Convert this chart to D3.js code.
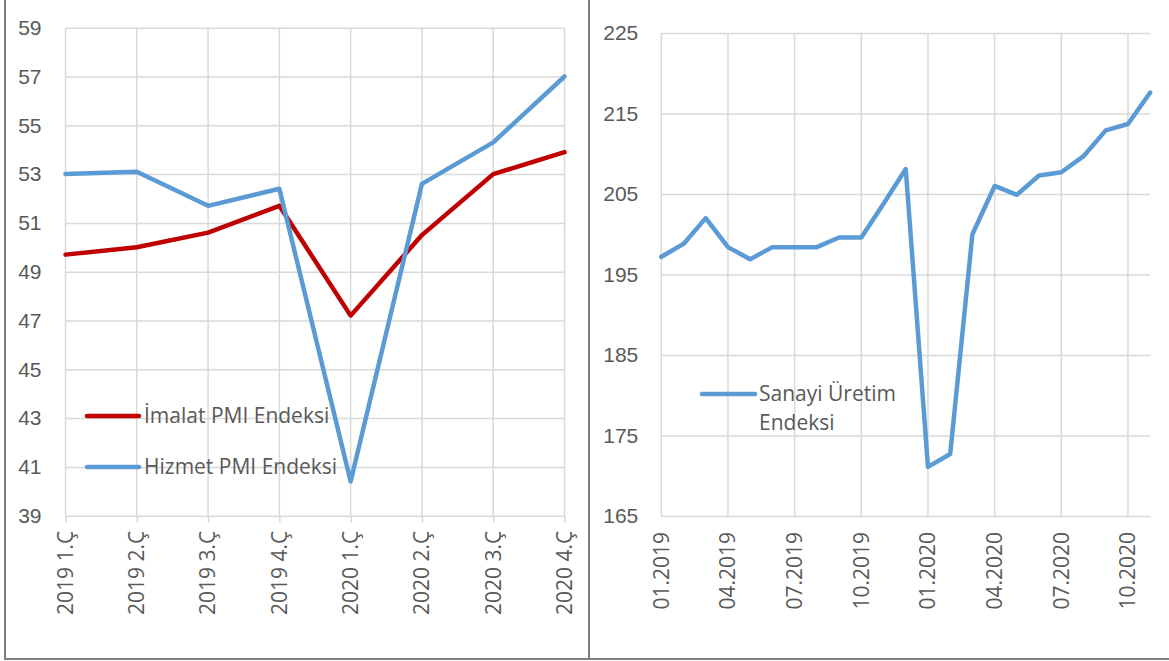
<!DOCTYPE html>
<html>
<head>
    <meta charset="utf-8">
    <title>PMI ve Sanayi Üretim Endeksi</title>
    <script src="https://d3js.org/d3.v7.min.js"></script>
    <style>
        body {
            margin: 0;
            background: #ffffff;
            font-family: 'Open Sans', 'Noto Sans', sans-serif;
        }
        svg text {
            fill: #595959;
        }
        .grid line {
            stroke: #d9d9d9;
            stroke-width: 1.5;
        }
    </style>
</head>
<body>
    <div id="chart"></div>

    <script>
        // Left panel: quarterly PMI
        const quarters = ['2019 1.Ç', '2019 2.Ç', '2019 3.Ç', '2019 4.Ç', '2020 1.Ç', '2020 2.Ç', '2020 3.Ç', '2020 4.Ç'];
        const imalatPMI = [49.7, 50.0, 50.6, 51.7, 47.2, 50.5, 53.0, 53.9];
        const hizmetPMI = [53.0, 53.1, 51.7, 52.4, 40.4, 52.6, 54.3, 57.0];
        const pmiTicks = [39, 41, 43, 45, 47, 49, 51, 53, 55, 57, 59];

        // Right panel: monthly industrial production
        const months = ['01.2019', '02.2019', '03.2019', '04.2019', '05.2019', '06.2019', '07.2019', '08.2019',
            '09.2019', '10.2019', '11.2019', '12.2019', '01.2020', '02.2020', '03.2020', '04.2020',
            '05.2020', '06.2020', '07.2020', '08.2020', '09.2020', '10.2020', '11.2020'];
        const sanayiUretim = [197.2, 198.8, 202.0, 198.4, 196.9, 198.4, 198.4, 198.4, 199.6, 199.6, 203.8, 208.1,
            171.1, 172.7, 200.0, 206.0, 204.9, 207.3, 207.7, 209.7, 212.9, 213.7, 217.6];
        const monthTickLabels = ['01.2019', '04.2019', '07.2019', '10.2019', '01.2020', '04.2020', '07.2020', '10.2020'];
        const uretimTicks = [165, 175, 185, 195, 205, 215, 225];

        const width = 1169;
        const height = 661;

        const svg = d3.select('#chart')
            .append('svg')
            .attr('width', width)
            .attr('height', height);

        // ---------- left chart ----------
        const xQ = d3.scalePoint().domain(quarters).range([65.5, 564.5]);
        const yP = d3.scaleLinear().domain([39, 59]).range([515.7, 27.7]);

        const left = svg.append('g');

        // horizontal gridlines + y labels
        left.append('g')
            .attr('class', 'grid')
            .attr('transform', 'translate(65.5,0)')
            .call(d3.axisLeft(yP).tickValues(pmiTicks).tickSize(-(564.5 - 65.5)).tickPadding(24))
            .call(g => g.select('.domain').remove())
            .call(g => g.selectAll('text').attr('font-size', 21).attr('fill', '#595959'));

        // vertical gridlines (with tick marks below) + rotated labels
        left.append('g')
            .attr('class', 'grid')
            .attr('transform', 'translate(0,' + yP(39) + ')')
            .call(d3.axisBottom(xQ).tickSize(7).tickFormat(''))
            .call(g => g.select('.domain').remove());
        left.append('g')
            .attr('class', 'grid')
            .selectAll('line')
            .data(quarters)
            .join('line')
            .attr('x1', d => xQ(d)).attr('x2', d => xQ(d))
            .attr('y1', yP(59)).attr('y2', yP(39));

        left.append('g')
            .selectAll('text')
            .data(quarters)
            .join('text')
            .attr('transform', d => `translate(${xQ(d)},${yP(39) + 15}) rotate(-90)`)
            .attr('text-anchor', 'end')
            .attr('dy', '0.35em')
            .attr('font-size', 21)
            .text(d => d);

        const lineQ = vals => d3.line()
            .x((d, i) => xQ(quarters[i]))
            .y(d => yP(d))(vals);

        left.append('path')
            .attr('d', lineQ(imalatPMI))
            .attr('fill', 'none')
            .attr('stroke', '#C00000')
            .attr('stroke-width', 4.5)
            .attr('stroke-linejoin', 'round')
            .attr('stroke-linecap', 'round');

        left.append('path')
            .attr('d', lineQ(hizmetPMI))
            .attr('fill', 'none')
            .attr('stroke', '#5B9BD5')
            .attr('stroke-width', 4.5)
            .attr('stroke-linejoin', 'round')
            .attr('stroke-linecap', 'round');

        // legend
        const legendL = [
            { name: 'İmalat PMI Endeksi', color: '#C00000', y: 416 },
            { name: 'Hizmet PMI Endeksi', color: '#5B9BD5', y: 467 }
        ];
        const lg = left.append('g')
            .selectAll('g')
            .data(legendL)
            .join('g')
            .attr('transform', d => `translate(87,${d.y})`);
        lg.append('line')
            .attr('x1', 0).attr('x2', 52)
            .attr('stroke', d => d.color)
            .attr('stroke-width', 4.5)
            .attr('stroke-linecap', 'round');
        lg.append('text')
            .attr('x', 57)
            .attr('dy', '0.35em')
            .attr('font-size', 21)
            .text(d => d.name);

        // ---------- right chart ----------
        const xM = d3.scaleLinear().domain([0, months.length - 1]).range([661.3, 1150.2]);
        const yS = d3.scaleLinear().domain([165, 225]).range([516, 33]);

        const right = svg.append('g');

        right.append('g')
            .attr('class', 'grid')
            .attr('transform', 'translate(661.3,0)')
            .call(d3.axisLeft(yS).tickValues(uretimTicks).tickSize(-(1150.2 - 661.3)).tickPadding(23))
            .call(g => g.select('.domain').remove())
            .call(g => g.selectAll('text').attr('font-size', 21).attr('fill', '#595959'));

        right.append('g')
            .attr('class', 'grid')
            .selectAll('line')
            .data(monthTickLabels)
            .join('line')
            .attr('x1', d => xM(months.indexOf(d))).attr('x2', d => xM(months.indexOf(d)))
            .attr('y1', yS(225)).attr('y2', yS(165));

        right.append('g')
            .selectAll('text')
            .data(monthTickLabels)
            .join('text')
            .attr('transform', d => `translate(${xM(months.indexOf(d))},${yS(165) + 16}) rotate(-90)`)
            .attr('text-anchor', 'end')
            .attr('dy', '0.35em')
            .attr('font-size', 21)
            .text(d => d);

        right.append('path')
            .attr('d', d3.line().x((d, i) => xM(i)).y(d => yS(d))(sanayiUretim))
            .attr('fill', 'none')
            .attr('stroke', '#5B9BD5')
            .attr('stroke-width', 4.5)
            .attr('stroke-linejoin', 'round')
            .attr('stroke-linecap', 'round');

        const lgR = right.append('g').attr('transform', 'translate(702,394)');
        lgR.append('line')
            .attr('x1', 0).attr('x2', 53)
            .attr('stroke', '#5B9BD5')
            .attr('stroke-width', 4.5)
            .attr('stroke-linecap', 'round');
        lgR.append('text')
            .attr('x', 57)
            .attr('dy', '0.35em')
            .attr('font-size', 21)
            .text('Sanayi Üretim');
        lgR.append('text')
            .attr('x', 57)
            .attr('y', 29)
            .attr('dy', '0.35em')
            .attr('font-size', 21)
            .text('Endeksi');

        // ---------- panel borders ----------
        const border = svg.append('g')
            .attr('stroke', '#7f7f7f')
            .attr('stroke-width', 2);
        border.append('line').attr('x1', 5).attr('x2', 5).attr('y1', 0).attr('y2', 659);
        border.append('line').attr('x1', 589).attr('x2', 589).attr('y1', 0).attr('y2', 659);
        border.append('line').attr('x1', 4).attr('x2', width).attr('y1', 659).attr('y2', 659);
    </script>
</body>
</html>
